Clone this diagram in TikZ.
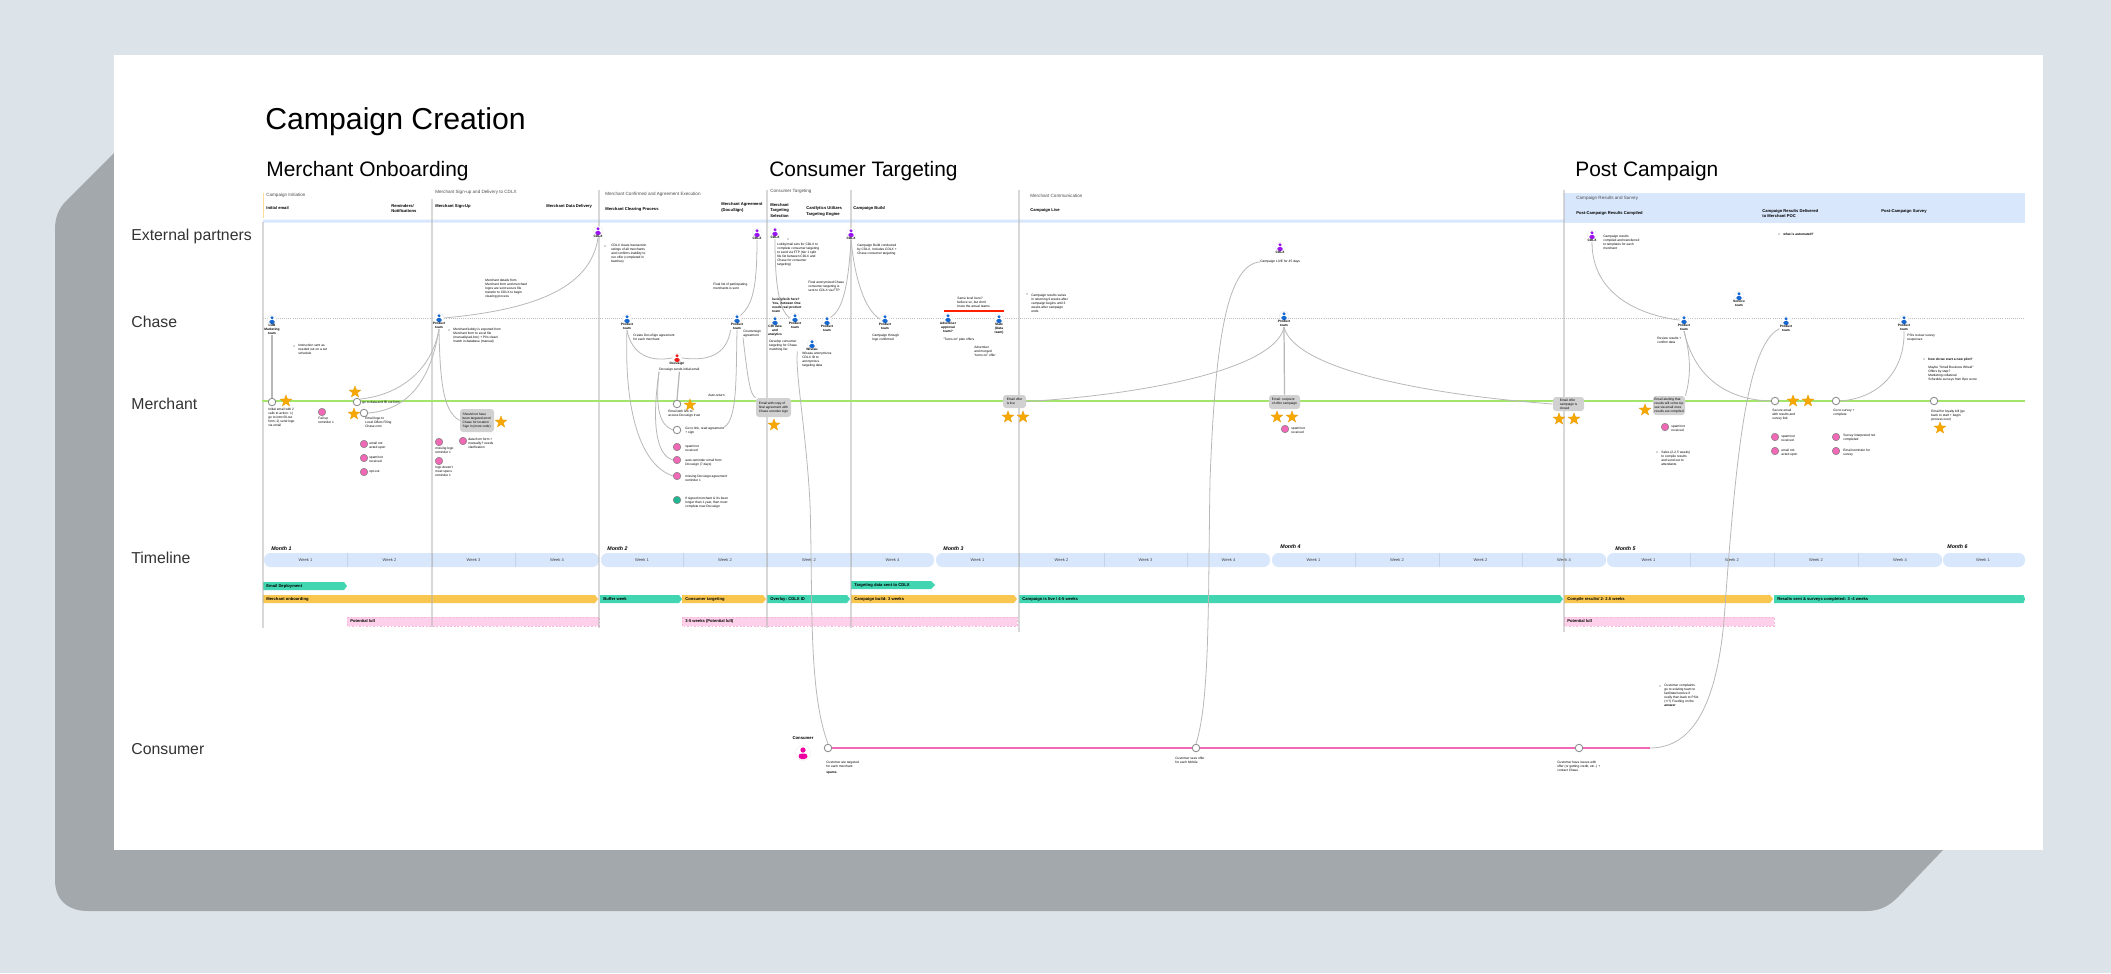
\documentclass[tikz,border=0pt]{standalone}
\usepackage{fontspec}
\setmainfont{Liberation Sans}
\usepackage{xcolor}
\usetikzlibrary{positioning,shapes.geometric}

\definecolor{pageBlue}{HTML}{DCE3E9}
\definecolor{shadowGrey}{HTML}{A3A8AC}
\definecolor{bandBlue}{HTML}{D8E7FC}
\definecolor{dividerBlue}{HTML}{C3D3E8}
\definecolor{laneGreen}{HTML}{A3E56B}
\definecolor{lanePink}{HTML}{F169B6}
\definecolor{barTeal}{HTML}{41D6B1}
\definecolor{barGold}{HTML}{F9C74F}
\definecolor{lullPink}{HTML}{FFD0EA}
\definecolor{lullEdge}{HTML}{F8B8DE}
\definecolor{starGold}{HTML}{F7A800}
\definecolor{chaseBlue}{HTML}{1668D0}
\definecolor{cdlxPurple}{HTML}{9A14F2}
\definecolor{signRed}{HTML}{EC1C1C}
\definecolor{hotPink}{HTML}{F000A0}
\definecolor{dotTeal}{HTML}{20B894}

\tikzset{
  smalltext/.style={font=\fontsize{1.85}{2.27}\selectfont},
  notetext/.style={smalltext, align=left, anchor=north west, inner sep=0},
  notebold/.style={notetext, font=\fontsize{1.85}{2.27}\selectfont\bfseries},
  teamlab/.style={font=\fontsize{1.85}{2.27}\selectfont\bfseries, align=center, inner sep=0},
  lanelab/.style={font=\fontsize{9}{10}\selectfont, anchor=west, text=black!80, inner sep=0},
  headreg/.style={font=\fontsize{2.6}{3}\selectfont, anchor=west, text=black!70, inner sep=0},
  headbold/.style={font=\fontsize{2.35}{3}\selectfont\bfseries, align=left, anchor=west, inner sep=0},
  barlab/.style={font=\fontsize{2.35}{3}\selectfont\bfseries, anchor=west, inner sep=0},
  weeklab/.style={font=\fontsize{2.3}{3}\selectfont, text=black!75, inner sep=0},
  halo/.style={circle, fill=white, draw=black!12, line width=0.1pt, minimum size=0.2cm, inner sep=0},
  touch/.style={circle, fill=white, draw=black!45, line width=0.5pt, minimum size=0.15cm, inner sep=0},
  pinkdot/.style={circle, fill=lanePink, draw=black!50, line width=0.3pt, minimum size=0.15cm, inner sep=0},
  bulletmark/.style={circle, draw=black!35, line width=0.1pt, minimum size=0.035cm, inner sep=0},
  goldstar/.style={star, star points=5, star point ratio=2.4, fill=starGold, draw=black!10!starGold,
    line width=0.1pt, minimum size=0.25cm, inner sep=0},
  greybox/.style={rectangle, rounded corners=0.06cm, fill=black!18, smalltext, align=left, inner sep=0},
  link/.style={draw=black!28, line width=0.45pt},
  lane/.style={draw=black!30, line width=0.8pt, opacity=0.5}
}

\begin{document}
\begin{tikzpicture}[x=0.02cm,y=-0.02cm]
  \useasboundingbox (0,0) rectangle (2111,973);

  % Page, shadow, sheet
  \fill[pageBlue] (0,0) rectangle (2111,973);
  \fill[shadowGrey] (114,153) -- (67,200) .. controls (58,209) and (55,218) .. (55,230)
    -- (55,880) .. controls (55,900) and (68,911) .. (88,911) -- (1866,911)
    .. controls (1880,911) and (1889,906) .. (1898,897) -- (1943,850) -- (114,850) -- cycle;
  \fill[white] (114,55) rectangle (2043,850);

  % Titles
  \node[anchor=west, font=\fontsize{17.2}{20}\selectfont, inner sep=0] (title) at (265,122) {Campaign Creation};
  \foreach \nm/\x/\txt in {headOn/266/Merchant Onboarding, headTarget/769/Consumer Targeting, headPost/1575/Post Campaign} {
    \node[anchor=west, font=\fontsize{11.9}{14}\selectfont, inner sep=0] (\nm) at (\x,171) {\txt};
  }

  % Row labels
  \foreach \nm/\y/\txt in {rowExt/236/External partners, rowChase/322/Chase, rowMerch/404/Merchant,
    rowTime/558/Timeline, rowCons/749/Consumer} {
    \node[lanelab] (\nm) at (131,\y) {\txt};
  }

  % Header band
  \fill[bandBlue] (1564,193) rectangle (2025,223);
  \fill[bandBlue] (263,219.5) -- (1563,219.5) -- (1566,221) -- (1563,222.5) -- (263,222.5) -- cycle;
  \draw[barGold!60!white, line width=0.5pt] (263,193) -- (263,218);

  % Header texts: regular
  \foreach \x/\y/\txt [count=\i] in {
    266/195/Campaign Initiation,
    435/192/Merchant Sign-up and Delivery to CDLX,
    605/194/Merchant Confirmed and Agreement Execution,
    770/191/Consumer Targeting,
    1030/196/Merchant Communication,
    1576/198/Campaign Results and Survey%
  } {
    \node[headreg] (headR\i) at (\x,\y) {\txt};
  }

  % Header texts: bold
  \foreach \x/\y/\txt [count=\i] in {
    266/208/Initial email,
    391/208.5/{Reminders/\\Notifications},
    435/206.5/Merchant Sign-Up,
    546/206.5/Merchant Data Delivery,
    605/209/Merchant Clearing Process,
    721/207.5/{Merchant Agreement\\(DocuSign)},
    770/210.5/{Merchant\\Targeting\\Selection},
    806/211.5/{Cardlytics Utilizes\\Targeting Engine},
    853/208/Campaign Build,
    1030/210/Campaign Live,
    1576/213/Post-Campaign Results Compiled,
    1762/213.5/{Campaign Results Delivered\\to Merchant POC},
    1881/211/Post-Campaign Survey%
  } {
    \node[headbold] (headB\i) at (\x,\y) {\txt};
  }

  % Months and weeks: (start/end/dividers/third week)
  \foreach \xa/\xb/\da/\db/\dc/\wk [count=\i] in {
    264/599/347/432/515/3,
    601/934/683/767/851/2,
    936/1270/1019/1104/1187/3,
    1272/1606/1355/1439/1522/2,
    1607/1942/1690/1774/1858/2%
  } {
    \fill[bandBlue, rounded corners=0.13cm] (\xa,553) rectangle (\xb,567);
    \foreach \dv in {\da,\db,\dc} {
      \draw[dividerBlue, line width=0.25pt] (\dv,553) -- (\dv,567);
    }
    \node[weeklab] (week\i a) at ({(\xa+\da)/2},560) {Week 1};
    \node[weeklab] (week\i b) at ({(\da+\db)/2},560) {Week 2};
    \node[weeklab] (week\i c) at ({(\db+\dc)/2},560) {Week \wk};
    \node[weeklab] (week\i d) at ({(\dc+\xb)/2},560) {Week 4};
  }
  \fill[bandBlue, rounded corners=0.13cm] (1943,553) rectangle (2025,567);
  \node[weeklab] (week6a) at (1983,560) {Week 1};

  \foreach \x/\y/\m in {271/549/1, 607/549/2, 943/549/3, 1280/547/4, 1615/549/5, 1947/547/6} {
    \node[anchor=west, font=\fontsize{3}{4}\selectfont\bfseries\itshape, inner sep=0] (month\m) at (\x,\y) {Month \m};
  }

  % Gantt bars: (start/end/top/tip/colour/label)
  \foreach \xa/\xb/\ya/\tp/\col/\txt [count=\i] in {
    263/347/582/3/barTeal/Email Deployment,
    851/935/581/4/barTeal/Targeting data sent to CDLX,
    263/598/595/3/barGold/Merchant onboarding,
    600/682/595/3/barTeal/Buffer week,
    682/766/595/3/barGold/Consumer targeting,
    767/850/595/3/barTeal/Overlay: CDLX ID,
    851/1017/595/3/barGold/Campaign build: 3 weeks,
    1019/1563/595/3/barTeal/{Campaign is live / 4-5 weeks},
    1564/1773/595/3/barGold/{Compile results/ 2- 2.5 weeks},
    1774/2025/595/1.5/barTeal/Results sent \& surveys completed: 3 -4 weeks%
  } {
    \fill[\col] (\xa,\ya) -- (\xb-\tp,\ya) -- (\xb,\ya+4) -- (\xb-\tp,\ya+8) -- (\xa,\ya+8) -- cycle;
    \node[barlab] (gantt\i) at (\xa+3,\ya+4) {\txt};
  }

  % Lull bars
  \foreach \xa/\xb/\txt [count=\i] in {347/599/Potential lull, 682/1017/3-5 weeks (Potential lull), 1564/1774/Potential lull} {
    \filldraw[fill=lullPink, draw=lullEdge, dash pattern=on 1pt off 1pt, line width=0.15pt] (\xa,617) rectangle (\xb,626);
    \node[barlab] (lull\i) at (\xa+3,621.5) {\txt};
  }

  % Phase lines
  \foreach \x/\ya/\yb in {263/222/628, 432/199/627, 599/190/628, 767/190/628, 851/190/628, 1019/190/632, 1564/190/632} {
    \draw[lane] (\x,\ya) -- (\x,\yb);
  }

  % Swimlanes
  \draw[black!25, line width=0.2pt, densely dotted] (263,318) -- (2025,318);
  \draw[laneGreen, line width=1.5pt] (262,401) -- (2025,401);
  \draw[lanePink, line width=1.1pt] (828,748) -- (1650,748);
  \draw[red!75!orange, line width=0.8pt] (944,311) -- (1004,311);
  \coordinate (consEnd) at (1650,748);

  % People: (name/x/y/colour/label)
  \foreach \nm/\x/\y/\col/\lab in {
    mktgA/272/320/chaseBlue/{LOB\\Marketing\\team},
    prodA/439/318/chaseBlue/{Product\\team},
    cdlxA/598/231/cdlxPurple/CDLX,
    prodB/627/319/chaseBlue/{Product\\team},
    prodC/737/319/chaseBlue/{Product\\team},
    cdlxB/757/233/cdlxPurple/CDLX,
    cdlxC/775/232/cdlxPurple/CDLX,
    signA/677/358/signRed/Docusign,
    dataA/775/321/chaseBlue/{CIB data\\and\\analytics},
    prodD/795/318/chaseBlue/{Product\\team},
    prodE/827/321/chaseBlue/{Product\\team},
    wiseA/812/344/chaseBlue/Wiseau,
    cdlxD/851/233/cdlxPurple/CDLX,
    prodF/885/319/chaseBlue/{Product\\team},
    advrA/948/318/chaseBlue/{Advertiser\\approval\\team?},
    stayA/999/319/chaseBlue/{State\\(Data\\team)},
    cdlxE/1280/247/cdlxPurple/CDLX,
    prodG/1284/316/chaseBlue/{Product\\team},
    cdlxF/1592/235/cdlxPurple/CDLX,
    prodH/1684/320/chaseBlue/{Product\\team},
    servA/1739/296/chaseBlue/{Service\\team},
    prodI/1786/321/chaseBlue/{Product\\team},
    prodJ/1904/320/chaseBlue/{Product\\team}%
  } {
    \node[halo] (\nm) at (\x,\y) {};
    \fill[\col] (\x,\y-2.2) circle (1.7);
    \fill[\col, rounded corners=0.03cm] (\x-2.7,\y+3.8) -- (\x-2.7,\y) -- (\x+2.7,\y) -- (\x+2.7,\y+3.8) -- cycle;
    \node[teamlab, below=-0.02cm of \nm] (\nm lab) {\lab};
  }

  % Consumer
  \node[teamlab, font=\fontsize{2.4}{3}\selectfont\bfseries] (consLab) at (803,738) {Consumer};
  \node[halo, minimum size=0.3cm] (consA) at (803,753) {};
  \fill[hotPink] (803,750) circle (2.6);
  \fill[hotPink, rounded corners=0.06cm] (798.5,759) -- (798.5,753.5) -- (807.5,753.5) -- (807.5,759) -- cycle;

  % Touchpoints
  \foreach \nm/\x/\y in {touchA/272/402, touchB/357/402, touchC/364/413, touchD/677/404, touchE/677/430,
    touchF/1775/401, touchG/1836/401, touchH/1934/401, consB/828/748, consC/1196/748, consD/1579/748} {
    \node[touch] (\nm) at (\x,\y) {};
  }

  % Pink and teal markers
  \foreach \nm/\x/\y in {pinkA/322/412, pinkB/364/444, pinkC/364/458, pinkD/364/472, pinkE/439/442, pinkF/439/461,
    pinkG/463/441, pinkH/677/447, pinkI/677/460, pinkJ/677/476, pinkK/1285/429, pinkL/1665/427,
    pinkM/1775/437, pinkN/1775/451, pinkO/1836/437, pinkP/1836/451} {
    \node[pinkdot] (\nm) at (\x,\y) {};
  }
  \node[pinkdot, fill=dotTeal] (tealA) at (677,500) {};

  % Grey boxes: (name/centre x/centre y/width/height/text)
  \foreach \nm/\x/\y/\w/\h/\txt in {
    boxA/477/420.5/34/23/{Should not have\\been targeted error/\\Chase for location\\Sign in (most code)},
    boxB/773.5/407.5/35/19/{Email with copy of\\final agreement with\\Chase encoder sign},
    boxC/1014.5/401.5/23/13/{Email offer\\is live},
    boxD/1284.5/402/31/14/{Email: recipient\\of offer campaign},
    boxE/1568.5/404/31/14/{Email offer\\campaign is\\closed},
    boxF/1669/405.5/32/19/{Email alerting that\\results will come Up\\see via email once\\results are compiled}%
  } {
    \node[greybox, minimum width=\w*0.02cm, minimum height=\h*0.02cm] (\nm) at (\x,\y) {\txt};
  }

  % Stars
  \foreach \x/\y [count=\i] in {286/401, 355/392, 354/414, 501/422, 690/405, 774/425, 1008/417, 1023/417, 1277/417,
    1292/417, 1559/419, 1574/419, 1645/410, 1793/401, 1808/401, 1940/428} {
    \node[goldstar] (star\i) at (\x,\y) {};
  }

  % Notes
  \foreach \x/\y/\txt [count=\i] in {
    268/408/{Initial email with 2\\calls to action: 1)\\go to intro fill-out\\form; 2) send logo\\via email},
    318/417/{Fall up\\reminder 1},
    362/400.5/go to data and fill out form,
    365/417/{Email logo to\\Local Offers Filing\\Chase.com},
    298/344/{Instruction sent as\\needed out on a set\\schedule},
    369/442/{email not\\acted upon},
    369/456/{spam/not\\received},
    369/470.5/opt-out,
    435/447/{missing logo\\reminder 1},
    435/466/{logo doesn't\\meet specs\\reminder 1},
    468/438/{data from form +\\manually? needs\\clarification},
    485/279/{Merchant details from\\Merchant form and merchant\\logos are sent secure file\\transfer to CDLX to begin\\clearing process},
    453/328/{Merchant/Lobby is exported from\\Merchant form to excel file\\(manually/ad-hoc) + PIIs clean/\\match in database (manual)},
    611/244/{CDLX clears transaction\\ratings of all merchants\\and confirms inability to\\run offer (completed in\\batches)},
    633/334/{Create DocuSign agreement\\for each merchant},
    713/283/{Final list of participating\\merchants is sent},
    743/330/{Countersign\\agreement},
    659/368/Docusign sends initial email,
    708/394/Auto-return,
    668/410/{Email with link to\\access Docusign trust},
    685/427/{Go to link, read agreement\\+ sign},
    685/445/{spam/not\\received},
    685/459/{auto-reminder email from\\Docusign (7 days)},
    685/475/{missing Docusign agreement\\reminder 1},
    685/497/{If signed merchant \& it's been\\longer than 1 year, then must\\complete new Docusign},
    777/243/{Lobby/mail sets for CDLX to\\complete consumer targeting\\to send via FTP (tier 1 split\\file list between CDLX and\\Chase for consumer\\targeting)},
    808/281/{Final anonymized Chase\\consumer targeting is\\sent to CDLX via FTP},
    769/340/{Develop consumer\\targeting for Chase\\matching list},
    802/352/{Wiseau anonymizes\\CDLX ID to\\anonymous\\targeting data},
    857/244/{Campaign Build conducted\\by CDLX, Includes CDLX +\\Chase consumer targeting},
    872/334/{Campaign through\\logo confirmed},
    957/297/{Same level here?\\believe so, but don't\\know the actual teams},
    943/338/"Turns on" plan offers,
    974/346/{Advertiser\\and merged\\"turns on" offer},
    1031/294/{Campaign results varies\\in returning 6 weeks after\\campaign begins until 3\\weeks after campaign\\ends},
    1260/260/Campaign LIVE for 45 days,
    1291/427/{spam/not\\received},
    1603/235/{Campaign results\\compiled and transferred\\to templates for each\\merchant},
    1657/337/{Review results +\\confirm data},
    1907/334/{PSIs review survey\\responses},
    1928/366/{Maybe "Small Business Wheel"\\Offers by step?\\Marketing collateral\\Schedule surveys from Bpo score},
    1671/425/{spam/not\\received},
    1661/451/{Sales (2-2.5 weeks)\\to compile results\\and send out to\\attendants},
    1772/409/{Secure email\\with results and\\survey link},
    1833/409/{Go to survey +\\complete},
    1931/410/{Email for loyalty bill (go\\back to start + begin\\process over)},
    1781/435/{spam/not\\received},
    1781/449/{email not\\acted upon},
    1843/434/{Survey interpreted not\\completed},
    1843/449/{Email reminder for\\survey},
    826/761/{Customer are targeted\\for each merchant\\[1pt]\textbf{spams}},
    1175/757/{Customer sees offer\\for each Mobile},
    1557/761/{Customer have issues with\\offer (or getting credit, etc..) +\\contact Chase},
    1664/684/{Customer complaints\\go to existing team to\\facilitate/resolve if\\really then back to PSIs\\(+/?) Feeding on the\\\textbf{answer}}%
  } {
    \node[notetext] (note\i) at (\x,\y) {\txt};
  }
  \foreach \x/\y/\txt [count=\i] in {
    772/298/{lucidly/kcik here?\\You, Between One\\needs real product\\team},
    1783/233/what is automated?,
    1928/358/how do we start a new pilot?%
  } {
    \node[notebold] (noteB\i) at (\x,\y) {\txt};
  }
  \foreach \x/\y [count=\i] in {294/346, 449/330, 605/246, 788/239, 1027/294, 1779/234, 1924/359, 1657/452, 1660/686} {
    \node[bulletmark] (mark\i) at (\x,\y) {};
  }

  % Connectors: CDLX and product
  \draw[link, line width=0.7pt] (mktgAlab.south) -- (touchA.north);
  \draw[link] (prodAlab.south) .. controls (432,370) and (400,395) .. (touchB.north east);
  \draw[link] (prodAlab.south) .. controls (430,385) and (405,410) .. (touchC.east);
  \draw[link] (prodAlab.south) .. controls (440,390) and (445,412) .. (boxA.west);
  \draw[link] (prodA.east) .. controls (530,310) and (590,290) .. (cdlxAlab.south);
  \draw[link] (prodBlab.south) .. controls (624,410) and (640,465) .. (pinkJ.west);
  \draw[link] (prodBlab.south) .. controls (632,355) and (650,362) .. (signA.west);
  \draw[link] (prodClab.south west) .. controls (727,352) and (712,362) .. (signA.east);
  \draw[link] (prodClab.south) .. controls (736,380) and (737,420) .. (note21.north east);
  \draw[link, line width=0.7pt] (note18.south) -- (touchD.north);
  \draw[link] (note18.south west) .. controls (655,410) and (660,425) .. (touchE.west);
  \draw[link] (note18.south west) .. controls (652,420) and (655,455) .. (pinkI.west);
  \draw[link] (note17.south west) .. controls (748,380) and (750,395) .. (boxB.north west);
  \draw[link] (cdlxBlab.south) .. controls (757,290) and (752,305) .. (prodC.north east);
  \draw[link] (cdlxClab.south) .. controls (775,280) and (778,310) .. (prodD.west);
  \draw[link] (cdlxDlab.south) .. controls (848,290) and (842,310) .. (prodE.north east);
  \draw[link] (cdlxDlab.south) .. controls (855,280) and (865,310) .. (prodF.west);
  \draw[link] (prodGlab.south) .. controls (1275,370) and (1140,395) .. (boxC.east);
  \draw[link, line width=0.7pt] (prodGlab.south) -- (boxD.north);
  \draw[link] (prodGlab.south) .. controls (1295,370) and (1430,395) .. (boxE.west);
  \draw[link] (cdlxFlab.south) .. controls (1592,295) and (1640,315) .. (prodH.west);
  \draw[link] (prodHlab.south) .. controls (1692,360) and (1690,380) .. (boxF.north east);
  \draw[link] (prodHlab.south) .. controls (1695,380) and (1730,400) .. (touchF.west);
  \draw[link] (prodJlab.south) .. controls (1905,370) and (1880,398) .. (touchG.east);

  % Connectors: down to the consumer
  \coordinate (wayData) at (810,503);
  \coordinate (wayLive) at (1210,480);
  \coordinate (wayPost) at (1724,620);
  \draw[link] (note28.south east) .. controls (795,372) and (806,430) .. (wayData)
    .. controls (813,600) and (808,690) .. (consB.north);
  \draw[link] (note36.west) .. controls (1225,265) and (1215,350) .. (wayLive)
    .. controls (1208,600) and (1210,700) .. (consC.north);
  \draw[link] (prodIlab.west) .. controls (1745,345) and (1735,470) .. (wayPost)
    .. controls (1716,710) and (1690,748) .. (consEnd);
\end{tikzpicture}
\end{document}
